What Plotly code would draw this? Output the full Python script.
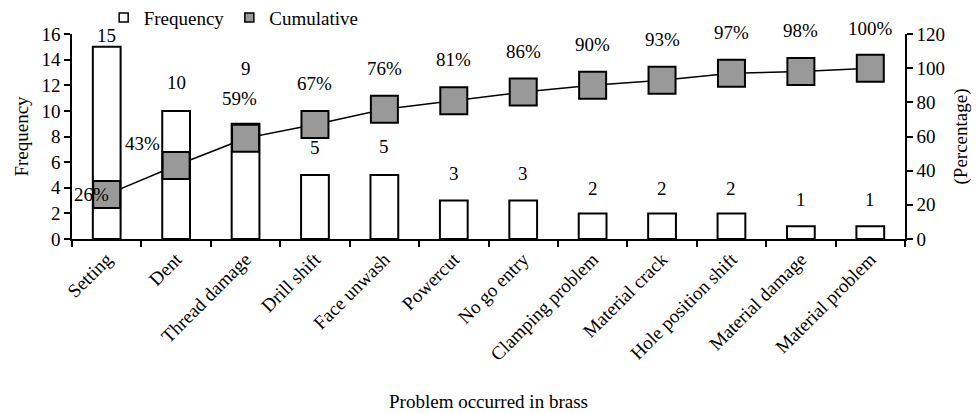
import plotly.graph_objects as go

# ---- data ----
categories = ["Setting", "Dent", "Thread damage", "Drill shift", "Face unwash", "Powercut",
              "No go entry", "Clamping problem", "Material crack", "Hole position shift",
              "Material damage", "Material problem"]
frequency = [15, 10, 9, 5, 5, 3, 3, 2, 2, 2, 1, 1]
cumulative_pct = [26, 43, 59, 67, 76, 81, 86, 90, 93, 97, 98, 100]
left_ticks = [0, 2, 4, 6, 8, 10, 12, 14, 16]
right_ticks = [0, 20, 40, 60, 80, 100, 120]

# ---- label offsets (style only) ----
freq_label_yshift = [11, 28, 55, 27, 28, 27, 27, 25, 25, 25, 27, 27]
pct_label_xshift = [-15, -34, -6, 0, 0, 0, 0, 0, 0, 0, 0, 0]
pct_label_yshift = [0, 22, 40, 41, 41, 41, 41, 41, 41, 41, 41, 40]

FONT = "Liberation Serif"
FS = 19
GREY = "#999999"

fig = go.Figure()

fig.add_trace(go.Bar(
    x=categories, y=frequency, yaxis="y",
    marker=dict(color="white", line=dict(color="black", width=2)),
    width=0.4, showlegend=False,
))

fig.add_trace(go.Scatter(
    x=categories, y=cumulative_pct, yaxis="y2", mode="lines+markers",
    line=dict(color="black", width=1.5),
    marker=dict(symbol="square", size=27, color=GREY, line=dict(color="black", width=2)),
    showlegend=False, cliponaxis=False,
))

# legend-only entries (square swatches)
fig.add_trace(go.Scatter(
    x=[None], y=[None], mode="markers", name="Frequency",
    marker=dict(symbol="square", size=9, color="white", line=dict(color="black", width=1.5)),
))
fig.add_trace(go.Scatter(
    x=[None], y=[None], mode="markers", name="Cumulative", yaxis="y2",
    marker=dict(symbol="square", size=9, color=GREY, line=dict(color="black", width=1.5)),
))

annotations = []
for c, v, ys in zip(categories, frequency, freq_label_yshift):
    annotations.append(dict(x=c, y=v, xref="x", yref="y", text=str(v), showarrow=False,
                            yshift=ys, font=dict(family=FONT, size=FS, color="black")))
for c, v, xs, ys in zip(categories, cumulative_pct, pct_label_xshift, pct_label_yshift):
    annotations.append(dict(x=c, y=v, xref="x", yref="y2", text=f"{v}%", showarrow=False,
                            xshift=xs, yshift=ys, font=dict(family=FONT, size=FS, color="black")))

axis_common = dict(showgrid=False, zeroline=False, showline=True, linecolor="black", linewidth=1.5,
                   ticks="outside", ticklen=6, tickwidth=1.5, tickcolor="black", automargin=False,
                   tickfont=dict(family=FONT, size=FS, color="black"))

fig.update_layout(
    width=976, height=413,
    margin=dict(l=72, r=71, t=34, b=174, autoexpand=False),
    paper_bgcolor="white", plot_bgcolor="white",
    font=dict(family=FONT, size=FS, color="black"),
    xaxis=dict(**axis_common, tickangle=-45, tickson="boundaries", range=[-0.5, 11.5],
               title=dict(text="Problem occurred in brass", font=dict(family=FONT, size=FS), standoff=31)),
    yaxis=dict(**axis_common, range=[0, 16], tickvals=left_ticks,
               title=dict(text="Frequency", font=dict(family=FONT, size=FS), standoff=8)),
    yaxis2=dict(**axis_common, range=[0, 120], tickvals=right_ticks, overlaying="y", side="right",
                title=dict(text="(Percentage)", font=dict(family=FONT, size=FS), standoff=10)),
    legend=dict(orientation="h", x=0.038, y=1.08, xanchor="left", yanchor="middle",
                font=dict(family=FONT, size=FS, color="black"), itemwidth=30,
                bgcolor="rgba(0,0,0,0)", tracegroupgap=0),
    annotations=annotations,
    bargap=0.6,
)

fig.write_html("out.html")
